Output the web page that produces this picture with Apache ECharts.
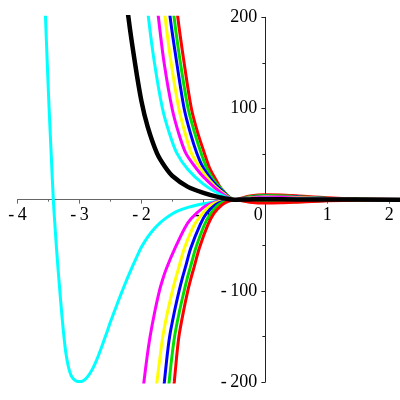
<!DOCTYPE html>
<html>
<head>
<meta charset="utf-8">
<script src="https://cdn.jsdelivr.net/npm/echarts@6/dist/echarts.min.js"></script>
<style>html,body{margin:0;padding:0;background:#fff}#c{width:400px;height:400px}</style>
</head>
<body>
<div id="c"></div>
<script>
const xTicks = [-4, -3, -2, -1, 0, 1, 2];
const yTicks = [-200, -100, 100, 200];

// upper family (positive left of -0.5)
const blackUp = [[-2.30,255],[-2.21,200],[-2.10,148],[-2.0,108],[-1.9,80],[-1.75,51],[-1.62,36],[-1.5,26],[-1.25,14],[-1.0,7.5],[-0.75,2.8],[-0.5,0],[-0.25,0.3],[0,0.5],[0.5,0.3],[1,0.1],[2.2,0]];
const cyanUp = [[-1.96,250],[-1.887,200],[-1.79,150],[-1.661,100],[-1.55,73],[-1.429,51],[-1.25,33],[-1.0,17],[-0.75,6.5],[-0.5,0],[-0.25,1],[0,1.5],[0.5,1],[1,0.4],[1.5,0.1],[2.2,0]];
const magentaUp = [[-1.79,240],[-1.726,200],[-1.634,150],[-1.505,100],[-1.4,73],[-1.284,51],[-1.12,34.7],[-1.0,25],[-0.75,9.5],[-0.5,0],[-0.25,1.5],[0,2.5],[0.5,1.8],[1,0.8],[1.5,0.3],[2.2,0]];
const yellowUp = [[-1.68,240],[-1.618,200],[-1.521,150],[-1.397,100],[-1.3,74],[-1.194,51],[-1.05,34.7],[-0.9,21],[-0.75,11],[-0.5,0],[-0.25,2],[0,3.2],[0.5,2.4],[1,1.1],[1.5,0.4],[2.2,0]];
const blueUp = [[-1.6,240],[-1.537,200],[-1.43,150],[-1.311,100],[-1.21,73],[-1.106,51],[-1.0,34.7],[-0.85,20],[-0.75,13],[-0.5,0],[-0.25,2.5],[0,3.8],[0.5,2.8],[1,1.3],[1.5,0.5],[2.2,0]];
const greenUp = [[-1.53,240],[-1.473,200],[-1.371,150],[-1.247,100],[-1.14,73],[-1.037,51],[-0.945,34.7],[-0.85,23],[-0.75,14.5],[-0.5,0],[-0.25,3.2],[0,4.5],[0.5,3.3],[1,1.6],[1.5,0.6],[2.2,0]];
const redUp = [[-1.47,240],[-1.413,200],[-1.311,150],[-1.194,100],[-1.09,73],[-0.984,51],[-0.9,34.7],[-0.8,22],[-0.7,11],[-0.5,0],[-0.25,4],[0,5.5],[0.25,5.2],[0.5,4.2],[1,2],[1.5,0.8],[2.2,0.2]];

// lower family (negative left of -0.5)
const cyanLow = [[-3.575,252],[-3.548,200],[-3.52,150],[-3.49,100],[-3.455,48],[-3.422,0],[-3.40,-24],[-3.375,-49],[-3.35,-72],[-3.317,-100],[-3.287,-124],[-3.257,-146],[-3.22,-168],[-3.18,-183],[-3.14,-192],[-3.1,-196.5],[-3.05,-199],[-3.0,-199.5],[-2.95,-199],[-2.9,-196.5],[-2.85,-192.5],[-2.8,-187],[-2.75,-180],[-2.7,-172],[-2.65,-163],[-2.6,-153.5],[-2.55,-144],[-2.5,-134],[-2.45,-125],[-2.4,-116],[-2.35,-107],[-2.3,-98.5],[-2.25,-90],[-2.2,-82],[-2.15,-74],[-2.1,-66.5],[-2.05,-59],[-2.0,-52],[-1.9,-41],[-1.8,-32.5],[-1.7,-25.5],[-1.6,-20],[-1.5,-15.5],[-1.4,-12],[-1.25,-8.5],[-1.1,-5.8],[-1.0,-4.5],[-0.9,-3.3],[-0.75,-1.8],[-0.6,-0.6],[-0.5,0],[-0.25,-0.5],[0,-0.8],[0.5,-0.6],[1,-0.2],[2.2,0]];
const magentaLow = [[-2.05,-250],[-1.96,-200],[-1.91,-173],[-1.86,-150],[-1.785,-123],[-1.71,-100],[-1.655,-87],[-1.6,-76],[-1.456,-53],[-1.3,-31],[-1.2,-21],[-1.0,-8.5],[-0.9,-5],[-0.75,-1.8],[-0.5,0],[-0.25,-1],[0,-1.5],[0.5,-1],[1,-0.4],[2.2,0]];
const yellowLow = [[-1.83,-250],[-1.75,-200],[-1.70,-173],[-1.655,-150],[-1.578,-123],[-1.5,-100],[-1.45,-87],[-1.4,-75],[-1.306,-53],[-1.15,-28],[-1.0,-14],[-0.876,-5.8],[-0.75,-2.3],[-0.5,0],[-0.25,-1.3],[0,-2],[0.5,-1.4],[1,-0.6],[2.2,0]];
const blueLow = [[-1.71,-250],[-1.63,-200],[-1.588,-173],[-1.545,-150],[-1.468,-123],[-1.392,-100],[-1.34,-86],[-1.29,-74],[-1.203,-53],[-1.05,-27],[-0.95,-15],[-0.81,-5.8],[-0.7,-2.3],[-0.5,0],[-0.25,-1.8],[0,-2.6],[0.5,-1.9],[1,-0.8],[2.2,0]];
const greenLow = [[-1.63,-250],[-1.553,-200],[-1.51,-173],[-1.465,-150],[-1.388,-123],[-1.311,-100],[-1.26,-86],[-1.21,-74],[-1.123,-53],[-0.98,-27],[-0.88,-15],[-0.76,-5.8],[-0.65,-2],[-0.5,0],[-0.25,-2.4],[0,-3.2],[0.5,-2.4],[1,-1],[2.2,0]];
const redLow = [[-1.55,-250],[-1.47,-200],[-1.433,-173],[-1.395,-150],[-1.323,-123],[-1.252,-100],[-1.20,-86],[-1.15,-74],[-1.065,-53],[-0.93,-28],[-0.83,-15],[-0.70,-5.8],[-0.6,-1.8],[-0.5,0],[-0.25,-2.8],[0,-3.8],[0.25,-3.5],[0.5,-2.8],[1,-1.3],[1.5,-0.5],[2.2,-0.1]];

const curves = [
  {d: cyanLow, c: '#00ffff', w: 3},
  {d: magentaLow, c: '#ff00ff', w: 3},
  {d: yellowLow, c: '#ffff00', w: 3},
  {d: blueLow, c: '#0000ff', w: 3},
  {d: greenLow, c: '#00e000', w: 3},
  {d: redLow, c: '#ff0000', w: 3},
  {d: redUp, c: '#ff0000', w: 3},
  {d: greenUp, c: '#00e000', w: 3},
  {d: blueUp, c: '#0000ff', w: 3},
  {d: yellowUp, c: '#ffff00', w: 3},
  {d: magentaUp, c: '#ff00ff', w: 3},
  {d: cyanUp, c: '#00ffff', w: 3},
  {d: blackUp, c: '#000000', w: 4.5}
];

const xMin = -4, xMax = 2.15, yMin = -200, yMax = 200;
const gL = 17.5, gR = 1.4, gT = 17.3, gB = 18;
const W = 400, H = 400;
// shift axes so they cross at the origin (whole axis incl. labels)
const yAxisOffset = -((0 - xMin) / (xMax - xMin)) * (W - gL - gR);
const xAxisOffset = -((0 - yMin) / (yMax - yMin)) * (H - gT - gB);

const fmt = v => v < 0 ? '-\u2009' + Math.abs(v) : String(v);
const font = {fontFamily: 'Liberation Serif', fontSize: 18, color: '#000'};

const chart = echarts.init(document.getElementById('c'), null, {renderer: 'canvas'});
chart.setOption({
  animation: false,
  backgroundColor: '#fff',
  grid: {left: gL, right: gR, top: gT, bottom: gB, containLabel: false, outerBoundsMode: 'none'},
  xAxis: {
    type: 'value', min: xMin, max: xMax, interval: 1, offset: xAxisOffset,
    splitLine: {show: false},
    axisLine: {onZero: false, lineStyle: {color: '#666', width: 1}},
    axisTick: {show: true, length: 4, customValues: xTicks, lineStyle: {color: '#666'}},
    minorTick: {show: true, splitNumber: 2, length: 2, lineStyle: {color: '#666'}},
    axisLabel: Object.assign({
      customValues: xTicks, margin: 7,
      formatter: v => v === 0 ? '{z|0}' : fmt(v),
      rich: {z: Object.assign({padding: [0, 14, 0, 0]}, font)}
    }, font)
  },
  yAxis: {
    type: 'value', min: yMin, max: yMax, interval: 100, offset: yAxisOffset,
    splitLine: {show: false},
    axisLine: {onZero: false, lineStyle: {color: '#222', width: 1}},
    axisTick: {show: true, length: 4, lineStyle: {color: '#222'}},
    minorTick: {show: true, splitNumber: 2, length: 3, lineStyle: {color: '#222'}},
    axisLabel: Object.assign({
      customValues: yTicks, margin: 8, padding: [4, 0, 0, 0],
      formatter: v => v === 0 ? '' : fmt(v)
    }, font)
  },
  series: curves.map(s => ({
    type: 'line', data: s.d, showSymbol: false, smooth: 0.3,
    clip: true, lineStyle: {color: s.c, width: s.w}, itemStyle: {color: s.c}
  }))
});
</script>
</body>
</html>
